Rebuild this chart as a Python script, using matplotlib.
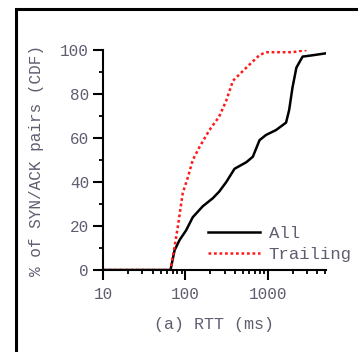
import matplotlib
matplotlib.use("Agg")
import matplotlib.pyplot as plt
from matplotlib.ticker import LogLocator, NullFormatter, FixedLocator, MultipleLocator
from matplotlib.patches import Rectangle

# RTT (ms) and CDF (%) values
all_rtt = [10, 66, 74, 85, 102, 123, 163, 215, 257, 314, 395, 550, 660, 795, 955,
           1260, 1670, 1820, 2000, 2230, 2650, 3500, 5100]
all_cdf = [0, 0, 9, 13.6, 18, 24, 29, 32.6, 35.6, 40, 46, 49, 51.5, 59, 61.4,
           63.6, 67, 72.7, 83, 92, 97, 97.6, 98.5]

trail_rtt = [10, 66, 74, 81, 93, 107, 123, 149, 196, 257, 314, 378, 550, 795, 955,
             2000, 2950]
trail_cdf = [0, 0, 10.6, 19.7, 35, 42, 50, 56, 63.6, 69.7, 77, 86, 92, 97.7, 99,
             99, 100]

series_labels = ["All", "Trailing"]
x_ticks = [10, 100, 1000]
x_ticklabels = ["10", "100", "1000"]
y_ticks = [0, 20, 40, 60, 80, 100]
x_label = "(a) RTT (ms)"
y_label = "% of SYN/ACK pairs (CDF)"

font = "Liberation Mono"
txt_color = "#5e5e70"

fig = plt.figure(figsize=(3.58, 3.52), dpi=100)
ax = fig.add_axes([103 / 358, 1 - 270 / 352, (326 - 103) / 358, (270 - 50) / 352])

ax.plot(all_rtt, all_cdf, color="black", lw=1.8, label=series_labels[0])
ax.plot(trail_rtt, trail_cdf, color="#ff1a1a", lw=1.8, ls=(0, (1.1, 1.1)),
        label=series_labels[1])

ax.set_xscale("log")
ax.set_xlim(10, 5100)
ax.set_ylim(0, 100)

ax.xaxis.set_major_locator(FixedLocator(x_ticks))
ax.set_xticklabels(x_ticklabels)
ax.xaxis.set_minor_locator(LogLocator(base=10, subs=range(2, 10), numticks=20))
ax.xaxis.set_minor_formatter(NullFormatter())
ax.yaxis.set_major_locator(FixedLocator(y_ticks))
ax.yaxis.set_minor_locator(MultipleLocator(10))

for s in ["top", "right"]:
    ax.spines[s].set_visible(False)
for s in ["left", "bottom"]:
    ax.spines[s].set_linewidth(1.5)

ax.tick_params(which="major", direction="out", length=7, width=1.5,
               labelsize=11.5, labelcolor=txt_color, pad=3)
ax.tick_params(axis="x", which="major", pad=5)
ax.tick_params(which="minor", direction="out", length=3, width=1.3)
for lab in ax.get_xticklabels() + ax.get_yticklabels():
    lab.set_family(font)

ax.set_xlabel(x_label, family=font, fontsize=12, color=txt_color, labelpad=11)
ax.set_ylabel(y_label, family=font, fontsize=11.5, color=txt_color, labelpad=12)

leg = ax.legend(loc="upper left", bbox_to_anchor=(208 / 358, 1 - 226 / 352),
                bbox_transform=fig.transFigure, frameon=False,
                prop={"family": font, "size": 12.5}, handlelength=3.0,
                handletextpad=0.5, labelspacing=0.35, borderpad=0, borderaxespad=0)
for t in leg.get_texts():
    t.set_color(txt_color)

# outer black frame (left and top edges visible)
fig.patches.append(Rectangle((15.5 / 358, -0.2), 1.5, 1.2 - 8.5 / 352,
                             transform=fig.transFigure, fill=False,
                             edgecolor="black", lw=2.2, zorder=10))

fig.savefig("out.png", dpi=100)
